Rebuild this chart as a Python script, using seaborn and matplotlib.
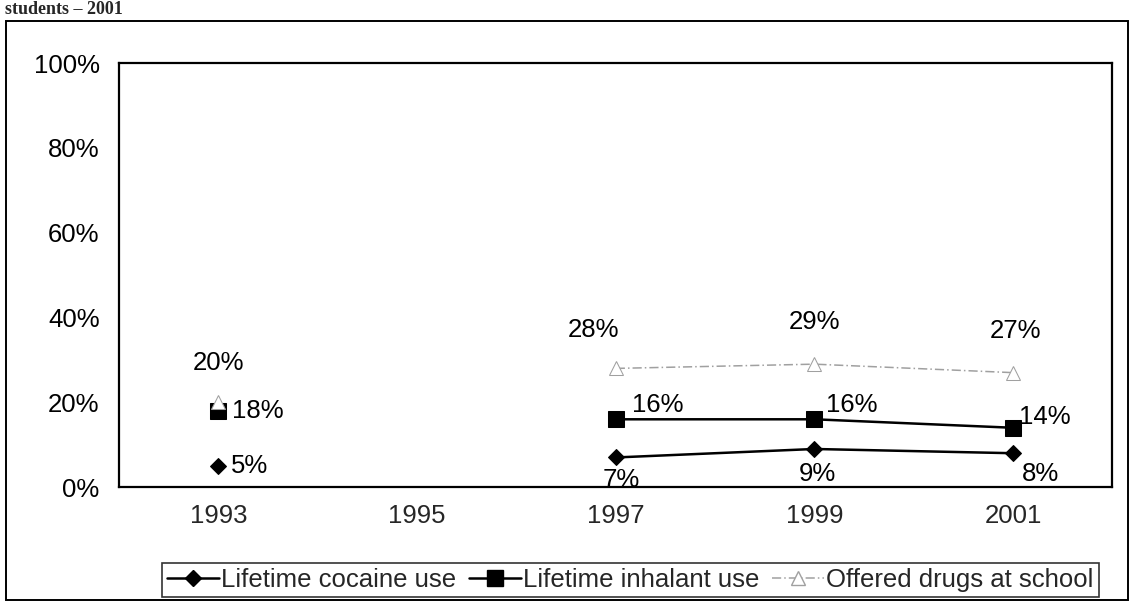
import matplotlib
matplotlib.use("Agg")
import matplotlib.pyplot as plt
import numpy as np
import pandas as pd
import seaborn as sns
from matplotlib.patches import Rectangle

years = ["1993", "1995", "1997", "1999", "2001"]
cocaine = [5, np.nan, 7, 9, 8]
inhalant = [18, np.nan, 16, 16, 14]
offered = [20, np.nan, 28, 29, 27]
series_names = ["Lifetime cocaine use", "Lifetime inhalant use", "Offered drugs at school"]

sns.set_theme(style="white")
plt.rcParams["font.family"] = ["Liberation Sans", "DejaVu Sans"]

rows = []
for name, vals in zip(series_names, [cocaine, inhalant, offered]):
    for i, (yr, v) in enumerate(zip(years, vals)):
        if not np.isnan(v):
            # 1995 is missing, so 1993 is its own segment
            rows.append({"series": name, "pos": i, "year": yr, "value": v, "seg": 0 if i < 1 else 1})
df = pd.DataFrame(rows)

fig = plt.figure(figsize=(11.34, 6.12), dpi=100)
ax = fig.add_axes([0.105, 0.204, 0.876, 0.693])

styles = {
    "Lifetime cocaine use": dict(color="black", marker="D", markersize=8, linewidth=1.8,
                                 markerfacecolor="black", markeredgecolor="black"),
    "Lifetime inhalant use": dict(color="black", marker="s", markersize=11, linewidth=1.8,
                                  markerfacecolor="black", markeredgecolor="black"),
    "Offered drugs at school": dict(color="#a0a0a0", marker="^", markersize=10, linewidth=1.1,
                                    linestyle=(0, (6, 2, 1, 2)),
                                    markerfacecolor="white", markeredgecolor="#a0a0a0"),
}

for name in series_names:
    sub = df[df["series"] == name]
    sns.lineplot(data=sub, x="pos", y="value", units="seg", estimator=None,
                 ax=ax, legend=False, **styles[name])

# value labels
fs = 18.5
lab_off = {
    "Lifetime cocaine use": [(9, 0, "left", "center"), None, (4, -16, "center", "center"),
                             (2, -18, "center", "center"), (6, -15, "left", "center")],
    "Lifetime inhalant use": [(10, 0, "left", "center"), None, (12, 10, "left", "center"),
                              (8, 10, "left", "center"), (4, 8, "left", "center")],
    "Offered drugs at school": [(0, 28, "center", "center"), None, (-16, 28, "center", "center"),
                                (0, 30, "center", "center"), (2, 30, "center", "center")],
}
for name, vals in zip(series_names, [cocaine, inhalant, offered]):
    for i, v in enumerate(vals):
        if np.isnan(v):
            continue
        dx, dy, ha, va = lab_off[name][i]
        ax.annotate(f"{int(v)}%", (i, v), xytext=(dx, dy), textcoords="offset points",
                    ha=ha, va=va, fontsize=fs, color="black")

ax.set_xlim(-0.5, 4.5)
ax.set_ylim(0, 100)
ax.set_xticks(np.arange(-0.5, 5.0, 1.0))
ax.set_xticklabels([])
ax.set_xticks(np.arange(5), minor=True)
ax.set_xticklabels(years, minor=True, fontsize=fs)
ax.tick_params(axis="x", which="major", direction="out", length=6, width=1, colors="black")
ax.tick_params(axis="x", which="minor", length=0, pad=12)
ax.set_yticks(np.arange(0, 101, 20))
ax.set_yticklabels([f"{t}%" for t in range(0, 101, 20)], fontsize=fs)
ax.tick_params(axis="y", direction="out", length=6, width=1, colors="black", pad=8)
ax.set_xlabel("")
ax.set_ylabel("")
for s in ax.spines.values():
    s.set_color("black")
    s.set_linewidth(1.6)

handles = [plt.Line2D([], [], **styles[n]) for n in series_names]
leg = fig.legend(handles, series_names, loc="center", bbox_to_anchor=(0.556, 0.052),
                 ncol=3, frameon=True, fontsize=fs, handlelength=2.0, handletextpad=0.1,
                 columnspacing=0.5, borderpad=0.2, fancybox=False)
leg.get_frame().set_edgecolor("black")
leg.get_frame().set_linewidth(1.2)

# outer chart border
fig.patches.append(Rectangle((0.005, 0.02), 0.99, 0.945, transform=fig.transFigure,
                             fill=False, edgecolor="black", linewidth=1.4))
fig.text(0.004, 0.998, "students \u2013 2001", ha="left", va="top", fontsize=13,
         fontweight="bold", family=["Liberation Serif", "DejaVu Serif"])

fig.savefig("out.png", dpi=100)
plt.close(fig)
